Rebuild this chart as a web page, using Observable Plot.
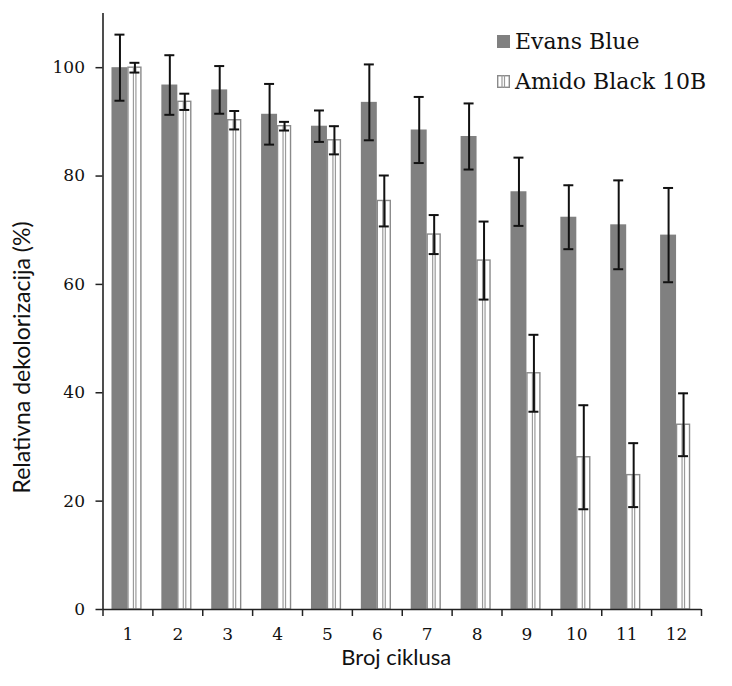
<!DOCTYPE html>
<html><head><meta charset="utf-8">
<script src="https://cdn.jsdelivr.net/npm/d3@7"></script>
<script src="https://cdn.jsdelivr.net/npm/@observablehq/plot@0.6"></script>
<style>
body{margin:0;background:#fff;}
#wrap{position:relative;width:732px;height:686px;}
#legend{position:absolute;left:497px;top:21px;font-family:"DejaVu Serif";font-size:22px;color:#111;}
#legend .row{display:flex;align-items:center;height:40px;white-space:nowrap;}
#legend svg{margin-right:5px;}
</style></head><body><div id="wrap"><div id="legend"></div></div>
<script>
const cycles = [1, 2, 3, 4, 5, 6, 7, 8, 9, 10, 11, 12];
const evansMean = [100, 96.8, 95.9, 91.4, 89.2, 93.6, 88.5, 87.3, 77.1, 72.4, 71.0, 69.1];
const evansErr  = [6.1, 5.5, 4.4, 5.6, 2.9, 7.0, 6.1, 6.1, 6.3, 5.9, 8.2, 8.7];
const amidoMean = [100, 93.7, 90.3, 89.2, 86.6, 75.4, 69.2, 64.4, 43.6, 28.1, 24.8, 34.1];
const amidoErr  = [0.9, 1.5, 1.7, 0.8, 2.6, 4.7, 3.6, 7.2, 7.1, 9.6, 5.9, 5.8];
const yTicks = [0, 20, 40, 60, 80, 100];
const seriesNames = ["Evans Blue", "Amido Black 10B"];
const yTitle = "Relativna dekolorizacija (%)";
const xTitle = "Broj ciklusa";

const evans = cycles.map((c, i) => ({c, v: evansMean[i], e: evansErr[i]}));
const amido = cycles.map((c, i) => ({c, v: amidoMean[i], e: amidoErr[i]}));
const bounds = cycles.map(c => c - 0.5).concat([cycles[cycles.length - 1] + 0.5]);

const EB = {x1: -0.32, x2: 0.0};
const AB = {x1: 0.01, x2: 0.27};
const ec = (EB.x1 + EB.x2) / 2, ac = (AB.x1 + AB.x2) / 2;
const cap = 0.1;

const chart = Plot.plot({
  width: 732, height: 686,
  marginLeft: 102.5, marginRight: 31, marginTop: 13, marginBottom: 77,
  style: {fontFamily: "DejaVu Serif", background: "white", color: "#111"},
  x: {domain: [0.5, 12.5], axis: null},
  y: {domain: [0, 110], axis: null},
  marks: [
    Plot.rect(evans, {x1: d => d.c + EB.x1, x2: d => d.c + EB.x2, y1: 0, y2: "v", fill: "#808080"}),
    Plot.rect(amido, {x1: d => d.c + AB.x1, x2: d => d.c + AB.x2, y1: 0, y2: "v", fill: "white", stroke: "#8a8a8a", strokeWidth: 1.4}),
    Plot.ruleX(amido, {x: d => d.c + AB.x1 + 0.10, y1: 0, y2: "v", stroke: "#9a9a9a", strokeWidth: 1.2}),
    Plot.ruleX(amido, {x: d => d.c + AB.x1 + 0.15, y1: 0, y2: "v", stroke: "#9a9a9a", strokeWidth: 1.2}),
    // error bars
    Plot.ruleX(evans, {x: d => d.c + ec, y1: d => d.v - d.e, y2: d => d.v + d.e, stroke: "#111", strokeWidth: 2}),
    Plot.ruleY(evans, {y: d => d.v + d.e, x1: d => d.c + ec - cap, x2: d => d.c + ec + cap, stroke: "#111", strokeWidth: 2}),
    Plot.ruleY(evans, {y: d => d.v - d.e, x1: d => d.c + ec - cap, x2: d => d.c + ec + cap, stroke: "#111", strokeWidth: 2}),
    Plot.ruleX(amido, {x: d => d.c + ac, y1: d => d.v - d.e, y2: d => d.v + d.e, stroke: "#111", strokeWidth: 2}),
    Plot.ruleY(amido, {y: d => d.v + d.e, x1: d => d.c + ac - cap, x2: d => d.c + ac + cap, stroke: "#111", strokeWidth: 2}),
    Plot.ruleY(amido, {y: d => d.v - d.e, x1: d => d.c + ac - cap, x2: d => d.c + ac + cap, stroke: "#111", strokeWidth: 2}),
    // axes
    Plot.ruleX([0.5], {stroke: "#222", strokeWidth: 1.6}),
    Plot.ruleY([0], {stroke: "#222", strokeWidth: 1.6}),
    Plot.axisY(yTicks, {tickSize: 7, tickPadding: 11, fontSize: 17, fontFamily: "DejaVu Serif", label: null, stroke: "#222", strokeWidth: 1.5}),
    Plot.axisX(bounds, {tickSize: 7, tickFormat: () => "", label: null, stroke: "#222", strokeWidth: 1.5}),
    Plot.axisX(cycles, {tickSize: 0, tickPadding: 18, fontSize: 17, fontFamily: "DejaVu Serif", label: null}),
    // titles
    Plot.text([yTitle], {text: d => d, frameAnchor: "left", textAnchor: "middle", rotate: -90, dx: -80, dy: 46, fontSize: 23, fontFamily: "Lato", fill: "#111"}),
    Plot.text([xTitle], {text: d => d, frameAnchor: "bottom", textAnchor: "middle", dx: -6, dy: 55, fontSize: 22, fontFamily: "Lato", fill: "#111"})
  ]
});
document.getElementById("wrap").prepend(chart);

const legend = document.getElementById("legend");
const icons = [
  '<svg width="13" height="13"><rect x="0" y="0" width="13" height="13" fill="#808080"/></svg>',
  '<svg width="13" height="13"><rect x="0.7" y="0.7" width="11.6" height="11.6" fill="white" stroke="#8a8a8a" stroke-width="1.4"/><line x1="5" y1="0" x2="5" y2="13" stroke="#9a9a9a" stroke-width="1.2"/><line x1="7.5" y1="0" x2="7.5" y2="13" stroke="#9a9a9a" stroke-width="1.2"/></svg>'
];
seriesNames.forEach((n, i) => {
  const row = document.createElement("div");
  row.className = "row";
  row.innerHTML = icons[i] + "<span>" + n + "</span>";
  legend.appendChild(row);
});
</script>
</body></html>
